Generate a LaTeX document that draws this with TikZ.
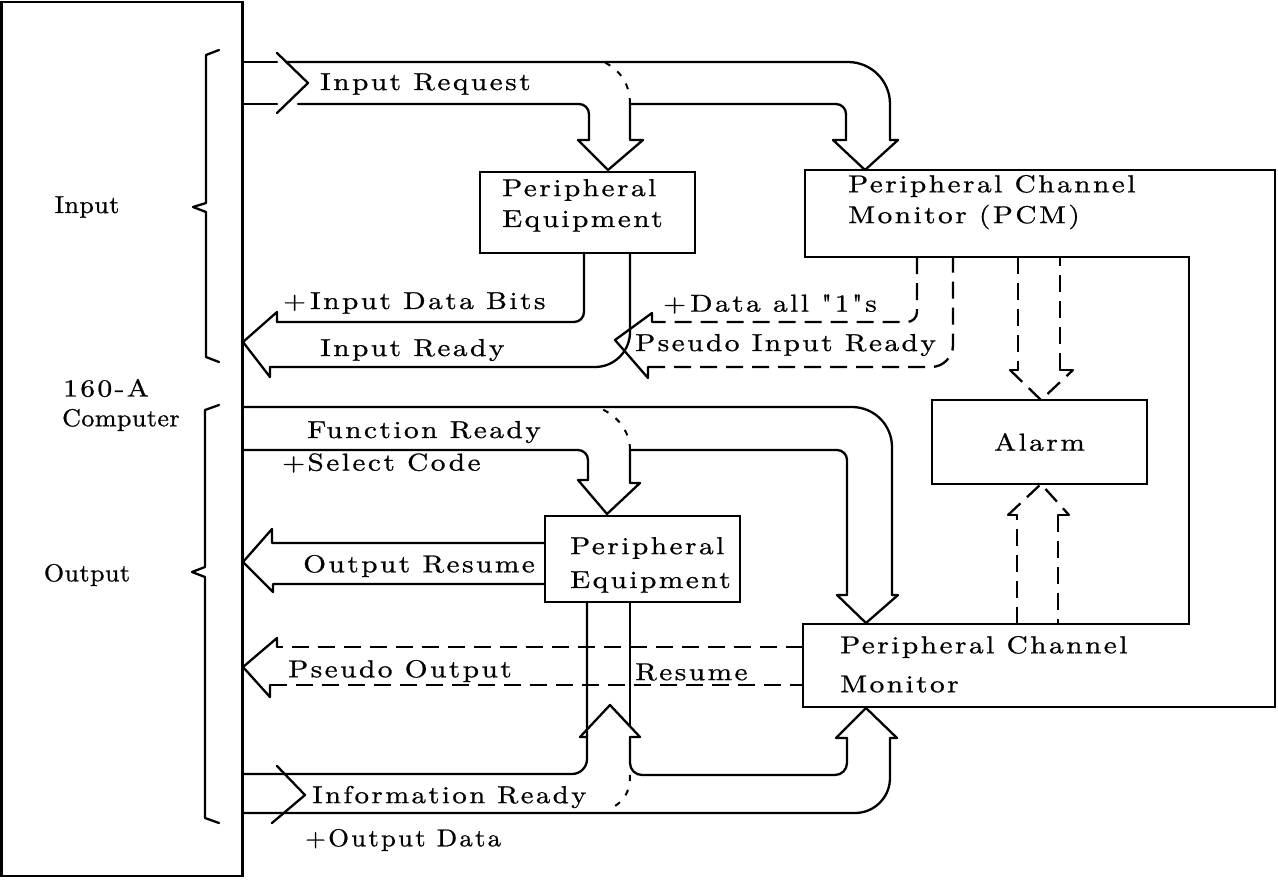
\documentclass[tikz,border=0pt]{standalone}
\usepackage{fontspec}
\usetikzlibrary{calc}
\newfontfamily\lblfam{lmroman10-regular.otf}[LetterSpace=10, FakeStretch=1.2, FakeBold=0.8, Ligatures=TeXOff]
\newfontfamily\lblfamB{lmroman10-regular.otf}[LetterSpace=2, FakeStretch=1.06, FakeBold=0.8, Ligatures=TeXOff]
\newcommand\lblfont{\lblfam\fontsize{24.5}{29}\selectfont}
\newcommand\lblfontB{\lblfamB\fontsize{24.5}{29}\selectfont}
\newcommand\narrow[2]{\scalebox{#1}[1]{#2}}
\tikzset{
  ln/.style={line width=2.3pt, line join=round, line cap=round},
  dsh/.style={line width=2.3pt, line join=round, dash pattern=on 17pt off 9pt},
  hop/.style={line width=2pt, dash pattern=on 6pt off 9pt},
  lbl/.style={font=\lblfont, inner sep=0pt, anchor=west},
  lblB/.style={font=\lblfontB, inner sep=0pt, anchor=west},
  boxn/.style={draw, line width=2.3pt, inner sep=0pt},
}
\begin{document}
\begin{tikzpicture}[x=1pt,y=-1pt]
\useasboundingbox (0,0) rectangle (1278,879);

% computer
\node[boxn, minimum width=241pt, minimum height=874pt] (comp) at (122,439) {};
\node[lbl] (t160) at (63,388) {160-A};
\node[lblB] (tcomp) at (62,420) {Computer};
\node[lblB, anchor=center] (tin) at (87,207) {Input};
\node[lblB, anchor=center] (tout) at (87,575) {Output};
\draw[ln] (219,50) -- (206,55) -- (206,203) -- (193,207) -- (206,212) -- (206,357) -- (219,362);
\draw[ln] (219,405) -- (205,410) -- (205,567) -- (192,572) -- (205,577) -- (205,818) -- (219,823);

% boxes
\node[boxn, minimum width=215pt, minimum height=81pt] (pe1) at (587.5,212.5) {};
\node[lbl] (pe1a) at (502,190) {Peripheral};
\node[lbl] (pe1b) at (502,221) {Equipment};
\node[boxn, minimum width=195pt, minimum height=86pt] (pe2) at (642.5,559) {};
\node[lbl] (pe2a) at (570,548) {Peripheral};
\node[lbl] (pe2b) at (570,582) {Equipment};
\node[boxn, minimum width=215pt, minimum height=84pt] (alarm) at (1039.5,442) {};
\node[lbl, anchor=center] (alarmt) at (alarm.center) {Alarm};

% PCM outline
\draw[ln, line cap=butt, line join=miter] (805,170) -- (1275,170) -- (1275,707) -- (803,707) -- (803,624) -- (1189,624) -- (1189,257) -- (805,257) -- cycle;
\node[lbl] (pcm1a) at (848,186) {Peripheral Channel};
\node[lbl] (pcm1b) at (848,217) {Monitor (PCM)};
\node[lbl] (pcm2a) at (840,647) {Peripheral Channel};
\node[lbl] (pcm2b) at (840,684) {Monitor};

% Input request bus
\draw[ln] (243,62) -- (277,62);
\draw[ln] (243,104) -- (277,104);
\draw[ln] (277,53) -- (308,83) -- (277,113);
\draw[ln, rounded corners=42pt] (286,62) -- (890,62) -- (890,140);
\draw[ln] (890,140) -- (898,140) -- (865,170) -- (833,140) -- (846,140);
\draw[ln, rounded corners=10pt] (846,140) -- (846,104) -- (630,104);
\draw[ln, rounded corners=10pt] (298,104) -- (589,104) -- (589,140);
\draw[ln] (589,140) -- (578,140) -- (608,170) -- (643,140) -- (630,140) -- (630,104);
\draw[hop] (630,104) .. controls (630,84) and (620,70) .. (604,62);
\node[lbl] (tir) at (320,84) {Input Request};

% input data bits / input ready
\draw[ln, rounded corners=10pt] (584,253) -- (584,322) -- (277,322);
\draw[ln] (277,322) -- (277,312) -- (243,342) -- (270,377) -- (270,367);
\draw[ln, rounded corners=35pt] (270,367) -- (630,367) -- (630,253);
\node[lbl] (tidb) at (283,303) {+\,Input Data Bits};
\node[lbl] (tiready) at (320,350) {Input Ready};

% pseudo input ready
\draw[dsh, rounded corners=10pt] (917,257) -- (917,322) -- (652,322);
\draw[ln] (652,322) -- (652,313) -- (615,340) -- (648,378) -- (648,367);
\draw[dsh, rounded corners=22pt] (648,367) -- (953,367) -- (953,257);
\node[lbl] (tdata) at (663,304) {+\,Data all "1"s};
\node[lbl] (tpir) at (635,345) {Pseudo Input Ready};

% alarm arrows
\draw[dsh] (1018,257) -- (1018,370);
\draw[ln] (1018,370) -- (1010,370);
\draw[dsh] (1010,370) -- (1041,400) -- (1073,370);
\draw[ln] (1073,370) -- (1060,370);
\draw[dsh] (1060,370) -- (1060,257);
\draw[dsh] (1017,624) -- (1017,515);
\draw[ln] (1017,515) -- (1008,515);
\draw[dsh] (1008,515) -- (1041,484) -- (1069,515);
\draw[ln] (1069,515) -- (1058,515);
\draw[dsh] (1058,515) -- (1058,624);

% function ready bus
\draw[ln, rounded corners=40pt] (243,407) -- (892,407) -- (892,595);
\draw[ln] (892,595) -- (898,595) -- (866,623) -- (837,595) -- (847,595);
\draw[ln, rounded corners=10pt] (847,595) -- (847,450) -- (630,450);
\draw[ln, rounded corners=10pt] (243,450) -- (588,450) -- (588,480);
\draw[ln] (588,480) -- (578,480) -- (607,514) -- (640,483) -- (630,483) -- (630,450);
\draw[hop] (630,450) .. controls (630,430) and (616,414) .. (597,407);
\node[lbl] (tfr) at (307,432) {Function Ready};
\node[lbl] (tsc) at (282,463) {+Select Code};

% output resume
\draw[ln] (pe2.west |- 0,543) -- (272,543) -- (272,529) -- (243,562) -- (273,592) -- (273,584) -- (pe2.west |- 0,584);
\node[lbl] (tor) at (303,566) {Output Resume};

% pseudo output resume
\draw[dsh] (803,647) -- (277,647);
\draw[ln] (277,647) -- (277,638) -- (243,667) -- (270,697) -- (270,685);
\draw[dsh] (270,685) -- (803,685);
\node[lbl] (tpo) at (288,671) {Pseudo Output};
\node[lbl] (tres) at (635,672) {Resume};

% information ready bus
\draw[ln, rounded corners=15pt] (587,602) -- (587,774) -- (243,774);
\draw[ln] (587,737) -- (580,737) -- (610,705) -- (640,737) -- (630,737);
\draw[ln] (630,602) -- (630,726);
\draw[ln, rounded corners=12pt] (630,737) -- (630,775) -- (847,775) -- (847,738);
\draw[ln] (847,738) -- (836,738) -- (866,708) -- (897,738) -- (890,738);
\draw[ln, rounded corners=35pt] (890,738) -- (890,813) -- (243,813);
\draw[ln] (277,766) -- (305,795) -- (272,823);
\draw[hop] (630,775) .. controls (630,793) and (624,802) .. (608,810);
\node[lbl] (tinfo) at (312,797) {\narrow{0.98}{Information Ready}};
\node[lbl] (tod) at (305,840) {\narrow{0.91}{+Output Data}};
\end{tikzpicture}
\end{document}
